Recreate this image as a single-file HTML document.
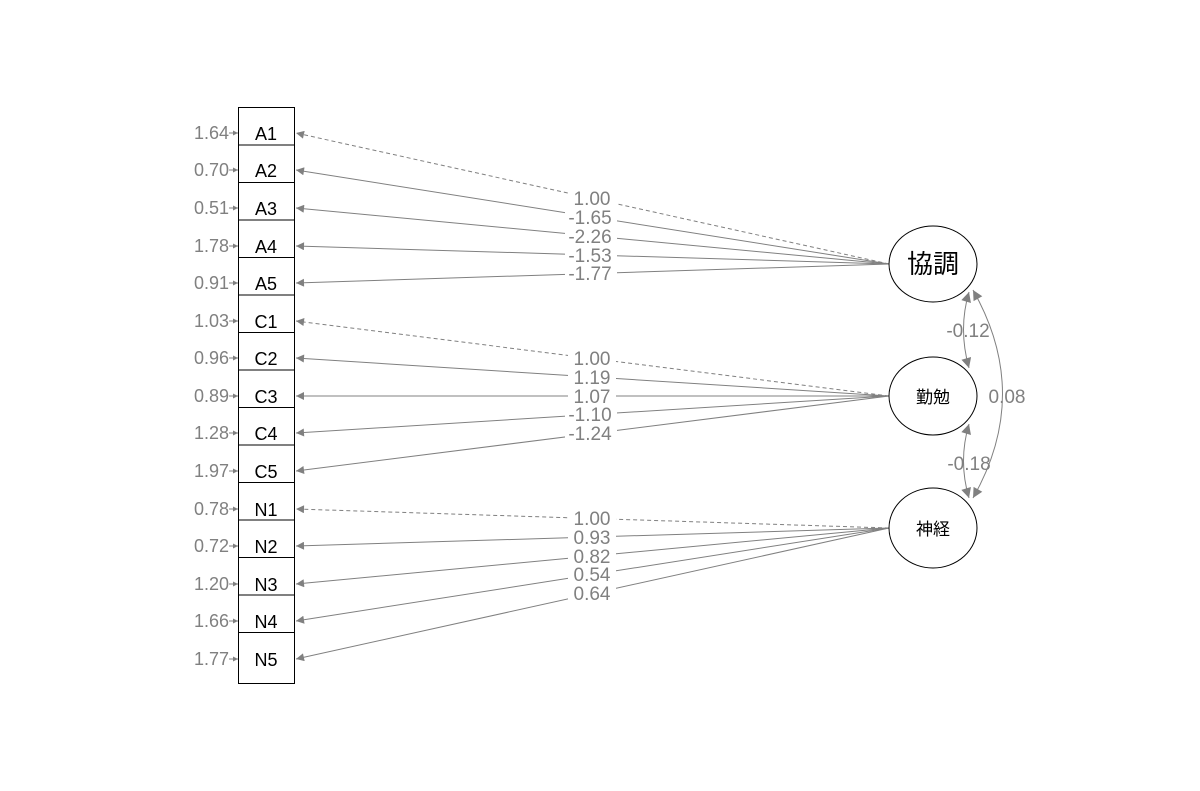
<!DOCTYPE html><html><head><meta charset="utf-8"><style>body{margin:0;background:#fff}svg{display:block}</style></head><body>
<svg width="1200" height="791" xmlns="http://www.w3.org/2000/svg" font-family="Liberation Sans, Noto Sans CJK JP, sans-serif">
<defs>
<marker id="ah" viewBox="0 0 10 10" refX="10" refY="5" markerWidth="12" markerHeight="8" markerUnits="userSpaceOnUse" orient="auto"><path d="M0,0L10,5L0,10z" fill="#808080"/></marker>
<marker id="as" viewBox="0 0 10 10" refX="10" refY="5" markerWidth="13" markerHeight="10" markerUnits="userSpaceOnUse" orient="auto-start-reverse"><path d="M0,0L10,5L0,10z" fill="#808080"/></marker>
<marker id="sm" viewBox="0 0 10 10" refX="10" refY="5" markerWidth="6" markerHeight="5" markerUnits="userSpaceOnUse" orient="auto"><path d="M0,0L10,5L0,10z" fill="#808080"/></marker>
</defs>
<g stroke="#808080" stroke-width="1" fill="none" marker-end="url(#ah)">
<line x1="889" y1="264" x2="296" y2="133" stroke-dasharray="4,3"/>
<line x1="889" y1="264" x2="296" y2="170"/>
<line x1="889" y1="264" x2="296" y2="208"/>
<line x1="889" y1="264" x2="296" y2="246"/>
<line x1="889" y1="264" x2="296" y2="283"/>
<line x1="889" y1="396" x2="296" y2="321" stroke-dasharray="4,3"/>
<line x1="889" y1="396" x2="296" y2="358"/>
<line x1="889" y1="396" x2="296" y2="396"/>
<line x1="889" y1="396" x2="296" y2="433"/>
<line x1="889" y1="396" x2="296" y2="471"/>
<line x1="889" y1="528" x2="296" y2="509" stroke-dasharray="4,3"/>
<line x1="889" y1="528" x2="296" y2="546"/>
<line x1="889" y1="528" x2="296" y2="584"/>
<line x1="889" y1="528" x2="296" y2="621"/>
<line x1="889" y1="528" x2="296" y2="659"/>
</g>
<g stroke="#808080" fill="none" marker-end="url(#sm)">
<line x1="229" y1="133" x2="238" y2="133"/><line x1="229" y1="170" x2="238" y2="170"/><line x1="229" y1="208" x2="238" y2="208"/><line x1="229" y1="246" x2="238" y2="246"/><line x1="229" y1="283" x2="238" y2="283"/>
<line x1="229" y1="321" x2="238" y2="321"/><line x1="229" y1="358" x2="238" y2="358"/><line x1="229" y1="396" x2="238" y2="396"/><line x1="229" y1="433" x2="238" y2="433"/><line x1="229" y1="471" x2="238" y2="471"/>
<line x1="229" y1="509" x2="238" y2="509"/><line x1="229" y1="546" x2="238" y2="546"/><line x1="229" y1="584" x2="238" y2="584"/><line x1="229" y1="621" x2="238" y2="621"/><line x1="229" y1="659" x2="238" y2="659"/>
</g>
<g fill="#fff">
<rect x="568" y="190" width="48" height="17"/><rect x="565" y="209" width="52" height="17"/><rect x="565" y="228" width="52" height="17"/><rect x="565" y="247" width="52" height="17"/><rect x="565" y="265" width="52" height="17"/>
<rect x="568" y="350" width="48" height="17"/><rect x="568" y="369" width="48" height="17"/><rect x="568" y="388" width="48" height="17"/><rect x="565" y="406" width="52" height="17"/><rect x="565" y="425" width="52" height="17"/>
<rect x="568" y="510" width="48" height="17"/><rect x="568" y="529" width="48" height="17"/><rect x="568" y="548" width="48" height="17"/><rect x="568" y="566" width="48" height="17"/><rect x="568" y="585" width="48" height="17"/>
</g>
<g fill="#808080" font-size="19" text-anchor="middle">
<text x="592" y="205">1.00</text><text x="590" y="224">-1.65</text><text x="590" y="243">-2.26</text><text x="590" y="262">-1.53</text><text x="590" y="280">-1.77</text>
<text x="592" y="365">1.00</text><text x="592" y="384">1.19</text><text x="592" y="403">1.07</text><text x="590" y="421">-1.10</text><text x="590" y="440">-1.24</text>
<text x="592" y="525">1.00</text><text x="592" y="544">0.93</text><text x="592" y="563">0.82</text><text x="592" y="581">0.54</text><text x="592" y="600">0.64</text>
</g>
<g fill="#808080" font-size="18" text-anchor="end">
<text x="229" y="139">1.64</text><text x="229" y="176">0.70</text><text x="229" y="214">0.51</text><text x="229" y="252">1.78</text><text x="229" y="289">0.91</text>
<text x="229" y="327">1.03</text><text x="229" y="364">0.96</text><text x="229" y="402">0.89</text><text x="229" y="439">1.28</text><text x="229" y="477">1.97</text>
<text x="229" y="515">0.78</text><text x="229" y="552">0.72</text><text x="229" y="590">1.20</text><text x="229" y="627">1.66</text><text x="229" y="665">1.77</text>
</g>
<g fill="#fff" stroke="#000" stroke-width="1">
<rect x="238.5" y="107.5" width="56" height="38"/><rect x="238.5" y="145" width="56" height="38"/><rect x="238.5" y="182.5" width="56" height="38"/><rect x="238.5" y="220" width="56" height="38"/><rect x="238.5" y="257.5" width="56" height="38"/>
<rect x="238.5" y="295" width="56" height="38"/><rect x="238.5" y="332.5" width="56" height="38"/><rect x="238.5" y="370" width="56" height="38"/><rect x="238.5" y="407.5" width="56" height="38"/><rect x="238.5" y="445" width="56" height="38"/>
<rect x="238.5" y="482.5" width="56" height="38"/><rect x="238.5" y="520" width="56" height="38"/><rect x="238.5" y="557.5" width="56" height="38"/><rect x="238.5" y="595" width="56" height="38"/><rect x="238.5" y="632.5" width="56" height="51"/>
</g>
<g fill="#000" font-size="18" text-anchor="middle">
<text x="266" y="140">A1</text><text x="266" y="177">A2</text><text x="266" y="215">A3</text><text x="266" y="253">A4</text><text x="266" y="290">A5</text>
<text x="266" y="328">C1</text><text x="266" y="365">C2</text><text x="266" y="403">C3</text><text x="266" y="440">C4</text><text x="266" y="478">C5</text>
<text x="266" y="516">N1</text><text x="266" y="553">N2</text><text x="266" y="591">N3</text><text x="266" y="628">N4</text><text x="266" y="666">N5</text>
</g>
<g stroke="#808080" fill="none" marker-start="url(#as)" marker-end="url(#as)">
<path d="M969,292 Q958,329 969,368"/>
<path d="M969,424 Q958,461 969,498"/>
<path d="M973,290 Q1032,394 973,498"/>
</g>
<g fill="#fff" stroke="#000">
<ellipse cx="933" cy="264" rx="44" ry="38"/>
<ellipse cx="933" cy="396" rx="44" ry="39"/>
<ellipse cx="933" cy="528" rx="44" ry="40"/>
</g>
<g fill="#000" text-anchor="middle">
<text x="933" y="273" font-size="26">協調</text>
<text x="933" y="403" font-size="17">勤勉</text>
<text x="933" y="535" font-size="17">神経</text>
</g>
<g fill="#808080" font-size="19" text-anchor="middle">
<text x="968" y="337">-0.12</text>
<text x="969" y="470">-0.18</text>
<text x="1007" y="403">0.08</text>
</g>
</svg></body></html>
